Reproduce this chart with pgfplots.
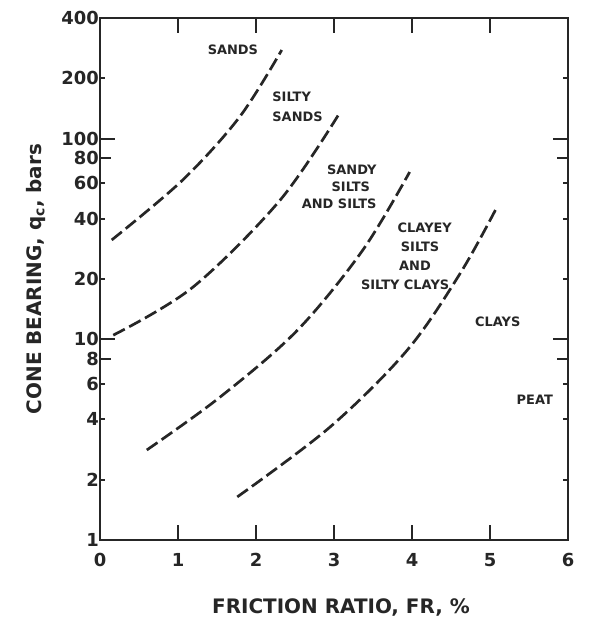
\documentclass[border=0pt]{standalone}
\usepackage{fontspec}
\setmainfont{DejaVu Sans}
\usepackage{pgfplots}
\pgfplotsset{compat=1.18}
\definecolor{ink}{HTML}{262626}
\tikzset{
 lab/.style={font=\bfseries\fontsize{13}{13}\selectfont, text=ink, inner sep=0pt},
}
\pgfplotsset{
 curve/.style={draw=ink, line width=2.7bp, dash pattern=on 13bp off 5bp, smooth, tension=0.55, mark=none},
}
\begin{document}
\begin{tikzpicture}
\begin{axis}[
 scale only axis, width=468bp, height=522bp,
 xmin=0, xmax=6, ymin=1, ymax=400, ymode=log,
 axis line style={line width=2.4bp, draw=ink},
 tick align=inside,
 every tick/.style={line width=1.8bp, draw=ink},
 major tick length=5bp, minor tick length=11bp,
 xtick={0,...,6}, xticklabels={0,1,2,3,4,5,6},
 extra x ticks={1,2,3,4,5}, extra x tick labels={},
 extra x tick style={major tick length=15bp},
 ytick={1,2,4,6,8,10,20,40,60,80,100,200,400},
 yticklabels={1,2,4,6,8,10,20,40,60,80,100,200,400},
 minor ytick={8,80},
 extra y ticks={10,100}, extra y tick labels={},
 extra y tick style={major tick length=15bp},
 ticklabel style={font=\bfseries\fontsize{18}{18}\selectfont, text=ink},
 xticklabel style={anchor=north, yshift=-10bp},
 yticklabel style={anchor=east, xshift=-1bp, inner sep=0pt},
 xlabel={FRICTION RATIO, FR, \%},
 ylabel={CONE BEARING, q\textsubscript{c}, bars},
 label style={font=\bfseries\fontsize{20}{20}\selectfont, text=ink},
 xlabel style={at={(axis description cs:0.515,-0.13)}, anchor=center},
 ylabel style={at={(axis description cs:-0.137,0.5)}, anchor=center},
 clip=false,
]
\addplot[curve, smooth] coordinates {(0.15,31.3) (1.06,62.3) (1.79,128.5) (2.33,277)};
\addplot[curve, smooth] coordinates {(0.17,10.5) (1.19,18.2) (2.31,49.5) (3.08,136)};
\addplot[curve, smooth] coordinates {(0.60,2.81) (1.54,5.16) (2.53,11.1) (3.37,27.9) (3.97,68.3)};
\addplot[curve, smooth] coordinates {(1.76,1.64) (2.95,3.66) (3.94,8.85) (4.62,21.4) (5.09,45.7)};

\node[lab] at (rel axis cs:0.284,0.939) {SANDS};
\node[lab, anchor=west] at (rel axis cs:0.368,0.849) {SILTY};
\node[lab, anchor=west] at (rel axis cs:0.368,0.810) {SANDS};
\node[lab] at (rel axis cs:0.538,0.709) {SANDY};
\node[lab] at (rel axis cs:0.536,0.677) {SILTS};
\node[lab] at (rel axis cs:0.511,0.645) {AND SILTS};
\node[lab] at (rel axis cs:0.694,0.598) {CLAYEY};
\node[lab] at (rel axis cs:0.684,0.561) {SILTS};
\node[lab] at (rel axis cs:0.673,0.526) {AND};
\node[lab] at (rel axis cs:0.652,0.489) {SILTY CLAYS};
\node[lab] at (rel axis cs:0.850,0.418) {CLAYS};
\node[lab] at (rel axis cs:0.929,0.268) {PEAT};
\end{axis}
\path (current axis.south west) ++(-100bp,-90bp) rectangle ++(597bp,630bp);
\end{tikzpicture}
\end{document}
